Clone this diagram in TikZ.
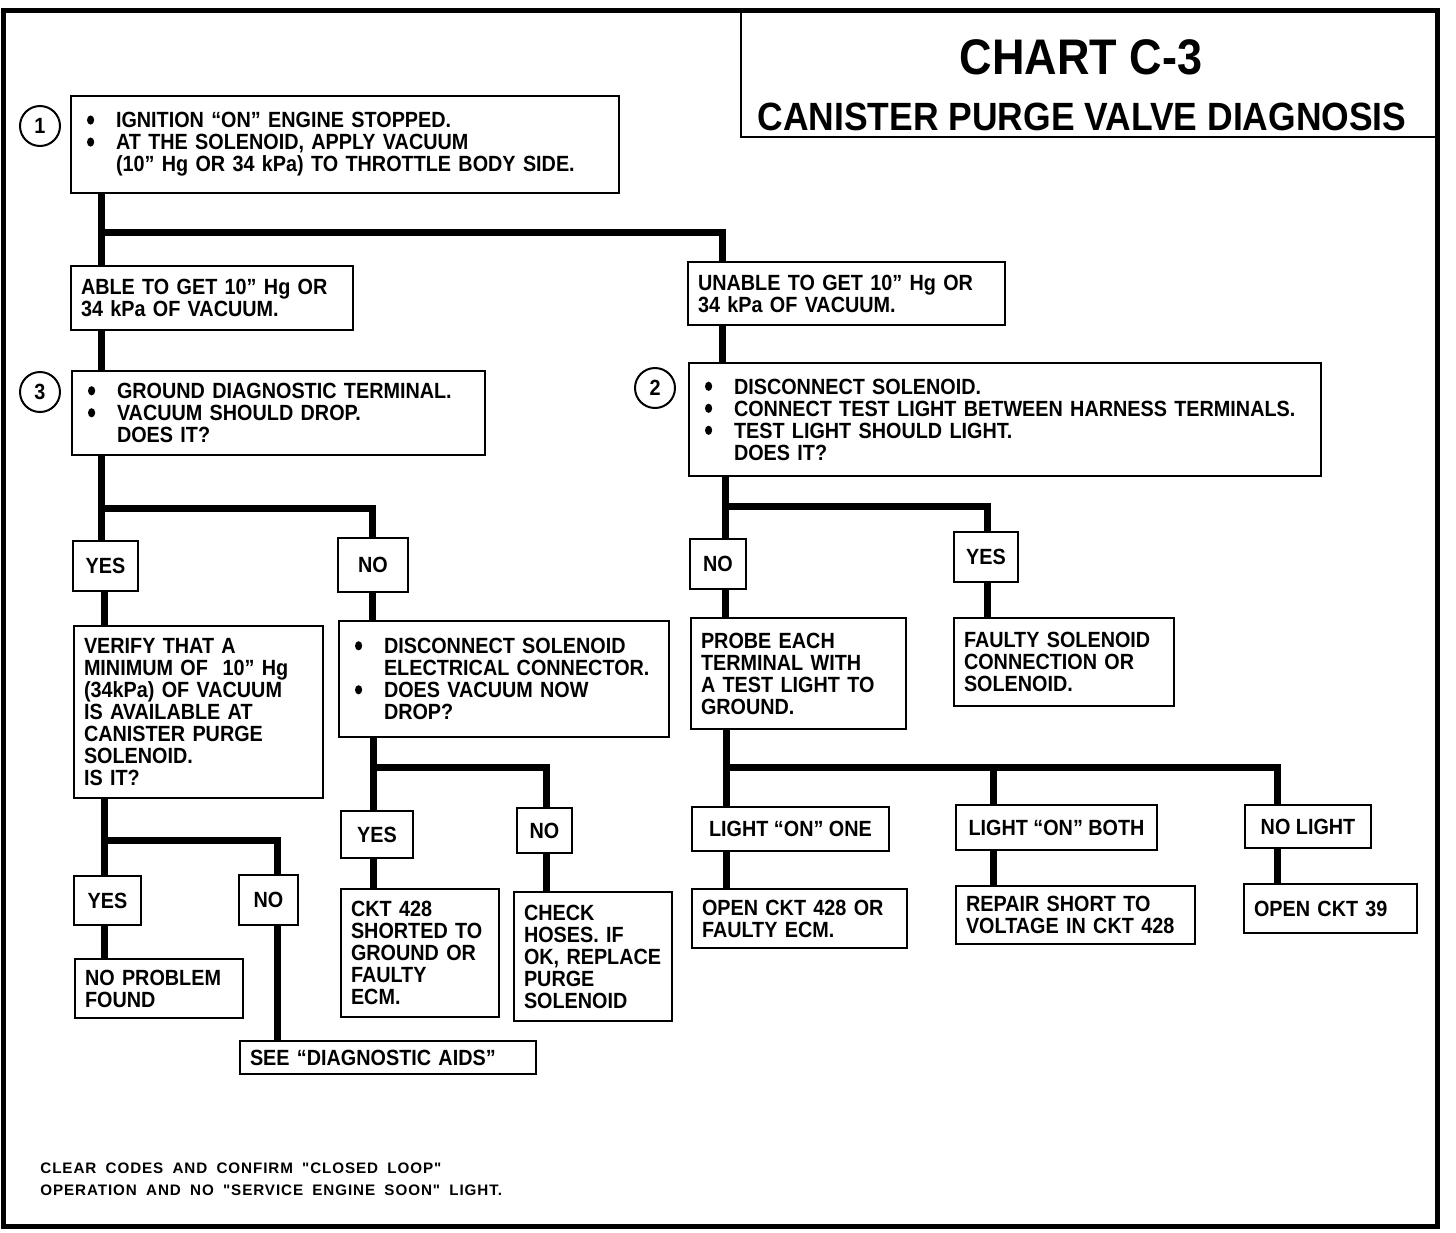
\documentclass[tikz,border=0pt]{standalone}
\usepackage{fontspec}
\setmainfont{Liberation Sans}[FakeStretch=0.9]
\newfontfamily\notefont{Liberation Sans}[LetterSpace=6,WordSpace=1.8]
\newcommand\bul{\makebox[17.5pt][l]{\hspace{3pt}\tikz[baseline=-3.9pt]\fill (0,0) ellipse (1.8pt and 2.3pt);}}
\newcommand\ind{\hspace*{17.5pt}}

\begin{document}
\begin{tikzpicture}[x=0.5pt, y=-0.5pt,
  box/.style={draw, line width=1pt, anchor=north west, align=left, inner xsep=5pt, inner ysep=0pt, font=\bfseries\fontsize{11}{11}\selectfont},
  lbl/.style={draw, line width=1pt, anchor=north west, inner sep=0pt, font=\bfseries\fontsize{11}{11}\selectfont},
  num/.style={draw, circle, line width=1pt, minimum size=20pt, inner sep=0pt, font=\bfseries\fontsize{11}{11}\selectfont},
  wire/.style={line width=3.5pt},
  frame/.style={line width=2.5pt}]
  \useasboundingbox (0,0) rectangle (1456,1232);
  \draw[frame] (3,10) rectangle (1437,1226);
  \draw[line width=1pt] (741,10) rectangle (1437,137);
  \node[font=\bfseries\fontsize{25}{25}\selectfont] (chart) at (1081,57) {CHART C-3};
  \node[font=\bfseries\fontsize{19.7}{19.7}\selectfont] (chartname) at (1082,117) {CANISTER PURGE VALVE DIAGNOSIS};

  \node[num] (c1) at (40,126) {1};
  \node[box, text width=264pt, minimum height=48.5pt] (s1) at (70,95)
    {\bul IGNITION “ON” ENGINE STOPPED.\\ \bul AT THE SOLENOID, APPLY VACUUM\\ \ind (10” Hg OR 34 kPa) TO THROTTLE BODY SIDE.\\[1.5pt]};
  \node[box, text width=131pt, minimum height=32pt] (able) at (70,265) {ABLE TO GET 10” Hg OR\\34 kPa OF VACUUM.};
  \node[box, text width=148.5pt, minimum height=31.5pt] (unable) at (687,261) {UNABLE TO GET 10” Hg OR\\34 kPa OF VACUUM.};

  \node[num] (c3) at (40,392) {3};
  \node[box, text width=196.5pt, minimum height=42pt] (s3) at (71,370)
    {\bul GROUND DIAGNOSTIC TERMINAL.\\ \bul VACUUM SHOULD DROP.\\ \ind DOES IT?};
  \node[num] (c2) at (655,388) {2};
  \node[box, text width=306pt, minimum height=56.5pt] (s2) at (688,362)
    {\bul DISCONNECT SOLENOID.\\ \bul CONNECT TEST LIGHT BETWEEN HARNESS TERMINALS.\\ \bul TEST LIGHT SHOULD LIGHT.\\ \ind DOES IT?};

  \node[lbl, minimum width=32.5pt, minimum height=25pt] (yesA) at (72,540) {YES};
  \node[lbl, minimum width=35pt, minimum height=27pt] (noA) at (337,537) {NO};
  \node[box, text width=114.5pt, minimum height=86pt] (verify) at (73,625)
    {VERIFY THAT A\\MINIMUM OF \ 10” Hg\\(34kPa) OF VACUUM\\IS AVAILABLE AT\\CANISTER PURGE\\SOLENOID.\\IS IT?};
  \node[box, text width=155pt, minimum height=58pt] (disc) at (338,620)
    {\bul DISCONNECT SOLENOID\\ \ind ELECTRICAL CONNECTOR.\\ \bul DOES VACUUM NOW\\ \ind DROP?};

  \node[lbl, minimum width=33.5pt, minimum height=24.5pt] (yesB) at (73,875) {YES};
  \node[lbl, minimum width=29.5pt, minimum height=25pt] (noB) at (238,874) {NO};
  \node[box, text width=74pt, minimum height=29.5pt] (noprob) at (74,958) {NO PROBLEM\\FOUND};
  \node[box, text width=138pt, minimum height=16.5pt] (see) at (239,1040) {SEE “DIAGNOSTIC AIDS”};

  \node[lbl, minimum width=36pt, minimum height=23.5pt] (yesC) at (340,810) {YES};
  \node[lbl, minimum width=27.5pt, minimum height=22.5pt] (noC) at (516,807) {NO};
  \node[box, text width=69pt, minimum height=64pt] (ckt) at (340,888) {CKT 428\\SHORTED TO\\GROUND OR\\FAULTY\\ECM.};
  \node[box, text width=69pt, minimum height=64.5pt] (check) at (513,891) {CHECK\\HOSES. IF\\OK, REPLACE\\PURGE\\SOLENOID};

  \node[lbl, minimum width=28pt, minimum height=25pt] (noD) at (689,538) {NO};
  \node[lbl, minimum width=32pt, minimum height=25pt] (yesD) at (953,531) {YES};
  \node[box, text width=97.5pt, minimum height=55.5pt] (probe) at (690,617) {PROBE EACH\\TERMINAL WITH\\A TEST LIGHT TO\\GROUND.};
  \node[box, text width=100pt, minimum height=44pt] (faulty) at (953,617) {FAULTY SOLENOID\\CONNECTION OR\\SOLENOID.};

  \node[lbl, minimum width=98.5pt, minimum height=22pt] (one) at (691,806) {LIGHT “ON” ONE};
  \node[lbl, minimum width=100.5pt, minimum height=22.5pt] (both) at (955,804) {LIGHT “ON” BOTH};
  \node[lbl, minimum width=63pt, minimum height=21.5pt] (nolight) at (1244,804) {NO LIGHT};
  \node[box, text width=97.5pt, minimum height=29.5pt] (open428) at (691,888) {OPEN CKT 428 OR\\FAULTY ECM.};
  \node[box, text width=109.5pt, minimum height=29pt] (repair) at (955,885) {REPAIR SHORT TO\\VOLTAGE IN CKT 428};
  \node[box, text width=76.5pt, minimum height=24.5pt] (open39) at (1243,883) {OPEN CKT 39};

  \node[anchor=north west, align=left, inner sep=0pt, font=\notefont\bfseries\fontsize{7.6}{11}\selectfont] (note) at (40,1162)
    {CLEAR CODES AND CONFIRM "CLOSED LOOP"\\OPERATION AND NO "SERVICE ENGINE SOON" LIGHT.};

  \coordinate (j1) at (101,232); \coordinate (k1) at (722,232);
  \coordinate (j3) at (101,508); \coordinate (k3) at (372,508);
  \coordinate (j4) at (104,840); \coordinate (k4) at (277,840);
  \coordinate (j5) at (373,767); \coordinate (k5) at (546,767);
  \coordinate (j6) at (725,506); \coordinate (k6) at (987,506);
  \coordinate (j7) at (726,767); \coordinate (k7) at (993,767); \coordinate (m7) at (1277,767);

  \path[wire]
    (s1.south -| j1) edge (able.north -| j1)
    (able.south -| j1) edge (s3.north -| j1)
    (unable.south -| k1) edge (s2.north -| k1)
    (s3.south -| j3) edge (yesA.north -| j3)
    (yesA.south -| j4) edge (verify.north -| j4)
    (noA.south -| k3) edge (disc.north -| k3)
    (verify.south -| j4) edge (yesB.north -| j4)
    (yesB.south -| j4) edge (noprob.north -| j4)
    (noB.south -| k4) edge (see.north -| k4)
    (disc.south -| j5) edge (yesC.north -| j5)
    (yesC.south -| j5) edge (ckt.north -| j5)
    (noC.south -| k5) edge (check.north -| k5)
    (s2.south -| j6) edge (noD.north -| j6)
    (noD.south -| j6) edge (probe.north -| j6)
    (yesD.south -| k6) edge (faulty.north -| k6)
    (probe.south -| j7) edge (one.north -| j7)
    (one.south -| j7) edge (open428.north -| j7)
    (both.south -| k7) edge (repair.north -| k7)
    (nolight.south -| m7) edge (open39.north -| m7);
  \draw[wire] (j1) -- (k1) -- (unable.north -| k1);
  \draw[wire] (j3) -- (k3) -- (noA.north -| k3);
  \draw[wire] (j4) -- (k4) -- (noB.north -| k4);
  \draw[wire] (j5) -- (k5) -- (noC.north -| k5);
  \draw[wire] (j6) -- (k6) -- (yesD.north -| k6);
  \draw[wire] (j7) -- (m7) -- (nolight.north -| m7) (k7) -- (both.north -| k7);
\end{tikzpicture}
\end{document}
